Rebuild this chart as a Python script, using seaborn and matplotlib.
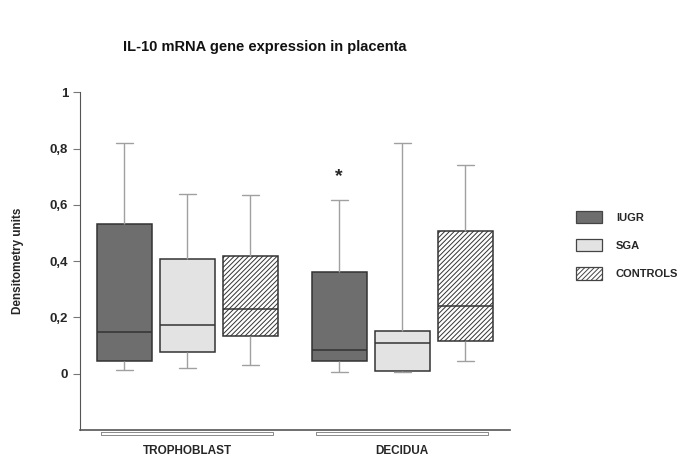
import pandas as pd
import seaborn as sns
import matplotlib.pyplot as plt
import matplotlib.transforms as mtransforms
from matplotlib.patches import Patch

# categories
tissues = ['TROPHOBLAST', 'DECIDUA']
groups = ['IUGR', 'SGA', 'CONTROLS']

# five-number summaries:
# low whisker, Q1, median, Q3, high whisker
troph_iugr = [0.013, 0.046, 0.149, 0.531, 0.820]
troph_sga = [0.019, 0.078, 0.174, 0.409, 0.638]
troph_ctrl = [0.032, 0.133, 0.229, 0.417, 0.635]
dec_iugr = [0.007, 0.044, 0.085, 0.361, 0.617]
dec_sga = [0.008, 0.011, 0.108, 0.153, 0.818]
dec_ctrl = [0.045, 0.117, 0.240, 0.508, 0.740]

y_ticks = [0, 0.2, 0.4, 0.6, 0.8, 1]
y_tick_labels = ['0', '0,2', '0,4', '0,6', '0,8', '1']

# significance mark (tissue, group, height)
star = ('DECIDUA', 'IUGR', 0.70)

colors = {'IUGR': '#6e6e6e', 'SGA': '#e3e3e3', 'CONTROLS': '#ffffff'}
hatches = {'IUGR': '', 'SGA': '', 'CONTROLS': '///////'}

# build long table
summaries = {
    ('TROPHOBLAST', 'IUGR'): troph_iugr,
    ('TROPHOBLAST', 'SGA'): troph_sga,
    ('TROPHOBLAST', 'CONTROLS'): troph_ctrl,
    ('DECIDUA', 'IUGR'): dec_iugr,
    ('DECIDUA', 'SGA'): dec_sga,
    ('DECIDUA', 'CONTROLS'): dec_ctrl,
}
rows = []
for (t, g), vals in summaries.items():
    for v in vals:
        rows.append({'tissue': t, 'group': g, 'value': v})
df = pd.DataFrame(rows)

sns.set_style('white')
plt.rcParams['font.family'] = ['Liberation Sans', 'DejaVu Sans']
plt.rcParams['hatch.linewidth'] = 0.7

fig = plt.figure(figsize=(6.77, 4.59), dpi=100)
ax = fig.add_axes([0.118, 0.063, 0.635, 0.736])

width = 0.88
sns.boxplot(data=df, x='tissue', y='value', hue='group',
            order=tissues, hue_order=groups, palette=colors,
            whis=(0, 100), width=width, gap=0.13,
            linecolor='#333333', linewidth=1.1,
            whiskerprops=dict(color='#a0a0a0', linewidth=1.0),
            capprops=dict(color='#a0a0a0', linewidth=1.0),
            capwidths=0.08, legend=False, ax=ax)

# hatch the control boxes
for p in ax.patches:
    fc = p.get_facecolor()
    if fc[0] > 0.99 and fc[1] > 0.99 and fc[2] > 0.99:
        p.set_hatch(hatches['CONTROLS'])

ax.set_xlim(-0.5, 1.5)
ax.set_ylim(-0.2, 1)
ax.set_yticks(y_ticks)
ax.set_yticklabels(y_tick_labels, fontsize=9.5, fontweight='bold')
ax.tick_params(axis='y', left=True, length=5, width=0.8, color='#777777')
ax.set_xticks(range(len(tissues)))
ax.set_xticklabels(tissues, fontsize=8.5, fontweight='bold')
ax.tick_params(axis='x', bottom=False, length=0, pad=11)
ax.set_xlabel('')
ax.set_ylabel('Densitometry units', fontsize=8.5, fontweight='bold')
ax.yaxis.set_label_coords(-0.13, 0.5)

sns.despine(ax=ax)
ax.spines['left'].set_color('#555555')
ax.spines['bottom'].set_color('#555555')
ax.spines['bottom'].set_linewidth(1.2)

# group brackets under the axis
trans = mtransforms.blended_transform_factory(ax.transData, ax.transAxes)
for i in range(len(tissues)):
    ax.plot([i - 0.4, i - 0.4, i + 0.4, i + 0.4, i - 0.4],
            [-0.006, -0.015, -0.015, -0.006, -0.006],
            transform=trans, clip_on=False, color='#8a8a8a', lw=0.7)

# significance star
slot = width / len(groups)
sx = tissues.index(star[0]) + (groups.index(star[1]) - 1) * slot
ax.text(sx, star[2], '*', ha='center', va='center', fontsize=14,
        fontweight='bold')

handles = [Patch(facecolor=colors[g], edgecolor='#444444', hatch=hatches[g],
                 linewidth=0.9) for g in groups]
ax.legend(handles, groups, loc='upper left',
          bbox_to_anchor=(576 / 677, 1 - 211 / 459),
          bbox_transform=fig.transFigure, frameon=False,
          prop={'size': 8, 'weight': 'bold'},
          handlelength=2.3, handleheight=1.3, labelspacing=1.45,
          handletextpad=1.3, borderpad=0, borderaxespad=0)

fig.text(0.391, 0.898, 'IL-10 mRNA gene expression in placenta',
         ha='center', va='center', fontsize=10.5, fontweight='bold',
         color='#111111')

fig.savefig('out.png', dpi=100)
